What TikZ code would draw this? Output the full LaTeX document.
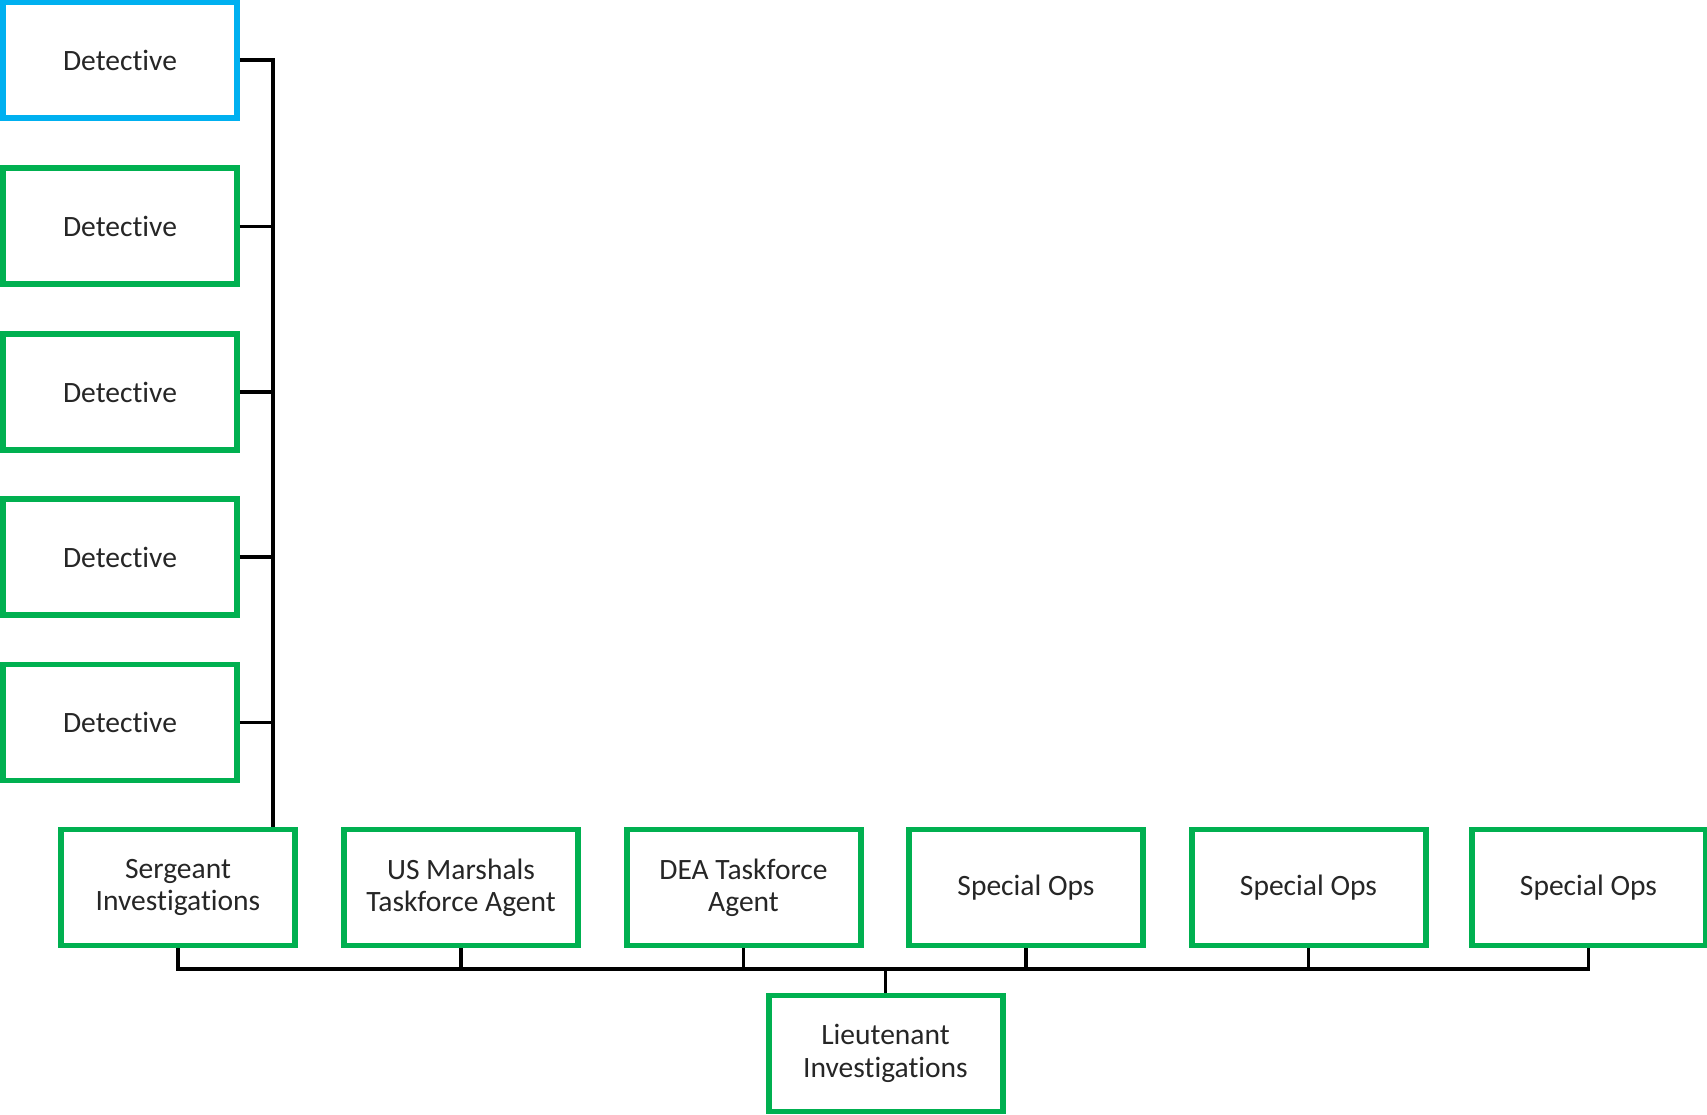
\documentclass[tikz,border=0pt]{standalone}
\usepackage{fontspec}
\setmainfont{Carlito}[Ligatures=NoCommon]
\definecolor{boxgreen}{HTML}{00B050}
\definecolor{boxblue}{HTML}{00B0F0}
\definecolor{txtgray}{HTML}{262626}
\begin{document}
\begin{tikzpicture}[
  rank/.style={draw=boxgreen, line width=1.7pt, fill=white, minimum width=2.34cm, minimum height=1.16cm,
    align=center, text=txtgray, font=\fontsize{8.4}{9.2}\selectfont},
  link/.style={line width=1pt}]
 \useasboundingbox (0,0) rectangle (17.07,11.15);
 \node[rank, draw=boxblue] (d1) at (1.20, 10.55) {Detective};
 \node[rank] (d2) at (1.20, 8.885) {Detective};
 \node[rank] (d3) at (1.20, 7.23) {Detective};
 \node[rank] (d4) at (1.20, 5.58) {Detective};
 \node[rank] (d5) at (1.20, 3.925) {Detective};

 \node[rank] (sgt) at (1.78, 2.275) {Sergeant\\Investigations};
 \node[rank] (usm) at (4.61, 2.275) {US Marshals\\Taskforce Agent};
 \node[rank] (dea) at (7.435, 2.275) {DEA Taskforce\\Agent};
 \node[rank] (sp1) at (10.26, 2.275) {Special Ops};
 \node[rank] (sp2) at (13.085, 2.275) {Special Ops};
 \node[rank] (sp3) at (15.885, 2.275) {Special Ops};

 \node[rank] (lt) at (8.855, 0.615) {Lieutenant\\Investigations};

 \coordinate (trunk) at (2.73, 10.55);
 \coordinate (bus) at (8.855, 1.46);

 \draw [link] (d1.east) -- (trunk) -- (trunk |- sgt.north);
 \foreach \d in {d2,d3,d4,d5}
   \draw [link] (\d.east) -- (\d.east -| trunk);
 \foreach \b in {sgt,usm,dea,sp1,sp2,sp3}
   \draw [link] (\b.south) |- (bus);
 \draw [link] (lt.north) -- (bus);
\end{tikzpicture}
\end{document}
